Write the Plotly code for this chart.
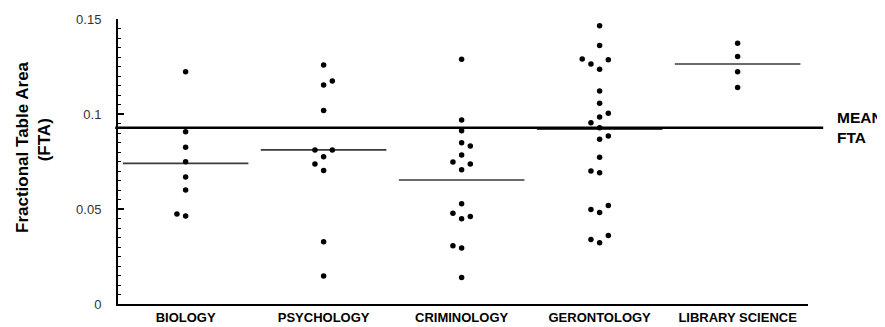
import plotly.graph_objects as go

categories = ["BIOLOGY", "PSYCHOLOGY", "CRIMINOLOGY", "GERONTOLOGY", "LIBRARY SCIENCE"]

biology = [0.1223, 0.0907, 0.0825, 0.0749, 0.0668, 0.0600, 0.0474, 0.0463]
biology_side = [0, 0, 0, 0, 0, 0, -1, 0]

psychology = [0.1258, 0.1174, 0.1153, 0.1019, 0.0811, 0.0811, 0.0775, 0.0737, 0.0702, 0.0328, 0.0147]
psychology_side = [0, 1, 0, 0, -1, 1, 0, -1, 0, 0, 0]

criminology = [0.1288, 0.0968, 0.0912, 0.0849, 0.0832, 0.0784, 0.0747, 0.0737, 0.0707,
               0.0528, 0.0477, 0.0460, 0.0449, 0.0307, 0.0295, 0.0139]
criminology_side = [0, 0, 0, 0, 1, 0, -1, 1, 0, 0, -1, 1, 0, -1, 0, 0]

gerontology = [0.1465, 0.1360, 0.1289, 0.1286, 0.1263, 0.1235, 0.1121, 0.1056, 0.1004, 0.0984,
               0.0954, 0.0928, 0.0884, 0.0867, 0.0772, 0.0700, 0.0691, 0.0518, 0.0498, 0.0482,
               0.0360, 0.0340, 0.0323]
gerontology_side = [0, 0, -2, 1, -1, 0, 0, 0, 1, 0, -1, 0, 1, 0, 0, -1, 0, 1, -1, 0, 1, -1, 0]

library_science = [0.1372, 0.1302, 0.1223, 0.1140]
library_science_side = [0, 0, 0, 0]

group_means = [0.0740, 0.0811, 0.0653, 0.0920, 0.1263]
mean_fta = 0.0928

y_ticks = [0, 0.05, 0.1, 0.15]

groups = [(biology, biology_side), (psychology, psychology_side), (criminology, criminology_side),
          (gerontology, gerontology_side), (library_science, library_science_side)]

SLOT = 0.063
HALF = 0.455

fig = go.Figure()
xs, ys = [], []
for i, (vals, sides) in enumerate(groups):
    for v, s in zip(vals, sides):
        xs.append(i + s * SLOT)
        ys.append(v)
fig.add_trace(go.Scatter(x=xs, y=ys, mode="markers",
                         marker=dict(color="black", size=5.5), showlegend=False,
                         hoverinfo="y"))

shapes = []
for i, m in enumerate(group_means):
    shapes.append(dict(type="line", xref="x", yref="y", x0=max(i - HALF, -0.49), x1=i + HALF,
                       y0=m, y1=m, line=dict(color="#3a3a3a", width=1.6), layer="below"))
shapes.append(dict(type="line", xref="paper", yref="y", x0=-0.004, x1=1.022,
                   y0=mean_fta, y1=mean_fta, line=dict(color="black", width=2.5)))

# page body has an 8px default margin: figure is sized so the plot area lands where the reference has it
fig.update_layout(
    width=877, height=319,
    margin=dict(l=110, r=77, t=11, b=23),
    paper_bgcolor="white", plot_bgcolor="white",
    font=dict(family="Liberation Sans, Arial, sans-serif", color="black"),
    shapes=shapes,
    xaxis=dict(range=[-0.49, 4.51], tickvals=list(range(len(categories))),
               ticktext=["<b>%s</b>" % c for c in categories],
               tickfont=dict(size=13, color="black"), automargin=False,
               showline=True, linecolor="black", linewidth=2, ticks="",
               showgrid=False, zeroline=False, fixedrange=True),
    yaxis=dict(range=[0, 0.15], tickvals=y_ticks, ticktext=["0", "0.05", "0.1", "0.15"],
               tickfont=dict(size=13, color="#333"), automargin=False,
               showline=True, linecolor="black", linewidth=2,
               ticks="inside", ticklen=6, tickwidth=1.5, tickcolor="black",
               ticklabelstandoff=12,
               minor=dict(dtick=0.005, ticks="inside", ticklen=3, tickwidth=1, tickcolor="black",
                          showgrid=False),
               showgrid=False, zeroline=False),
    annotations=[
        dict(text="<b>Fractional Table Area</b>", xref="paper", yref="paper",
             x=-0.1377, y=0.551, textangle=-90, showarrow=False,
             xanchor="center", yanchor="middle", font=dict(size=17, color="black")),
        dict(text="<b>(FTA)</b>", xref="paper", yref="paper",
             x=-0.107, y=0.575, textangle=-90, showarrow=False,
             xanchor="center", yanchor="middle", font=dict(size=17, color="black")),
        dict(text="<b>MEAN<br>FTA</b>", xref="paper", yref="y", x=1.039, y=mean_fta,
             xanchor="left", yanchor="middle", align="left", showarrow=False,
             font=dict(size=15.5, color="black")),
    ],
)

fig.write_html("out.html")
